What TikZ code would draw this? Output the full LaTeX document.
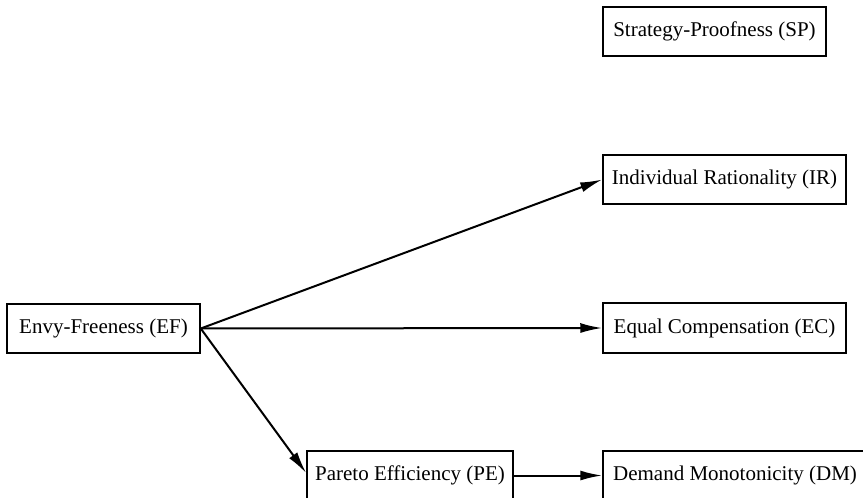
\documentclass[tikz,border=0pt]{standalone}
\usepackage{fontspec}
\setmainfont{Liberation Serif}
\usetikzlibrary{arrows.meta}
\begin{document}
\begin{tikzpicture}[x=0.5pt,y=-0.5pt,
  prop/.style={draw, line width=0.75pt, inner sep=0pt, font=\fontsize{10.5}{12}\selectfont},
  arr/.style={line width=1pt, -{Latex[length=11pt,width=5pt]}}]
\useasboundingbox (0,0) rectangle (863,498);
\clip (0,0) rectangle (863,498);
\node[prop, minimum width=111.5pt, minimum height=24.5pt] (SP) at (714.5,31.5) {Strategy-Proofness (SP)};
\node[prop, minimum width=121.5pt, minimum height=24.5pt] (IR) at (724.5,179.5) {Individual Rationality (IR)};
\node[prop, minimum width=96.5pt, minimum height=24.5pt] (EF) at (103.5,328.5) {Envy-Freeness (EF)};
\node[prop, minimum width=121.5pt, minimum height=25pt] (EC) at (724.5,328) {Equal Compensation (EC)};
\node[prop, minimum width=103pt, minimum height=24.5pt] (PE) at (410,475.5) {Pareto Efficiency (PE)};
\node[prop, minimum width=132pt, minimum height=24.5pt] (DM) at (735,475.5) {Demand Monotonicity (DM)};
\draw[arr] (EF.east) -- (IR.west);
\draw[arr] (EF.east) -- (EC.west);
\draw[arr] (EF.east) -- ([yshift=1.2pt]PE.west);
\draw[arr] (PE.east) -- (DM.west);
\end{tikzpicture}
\end{document}
